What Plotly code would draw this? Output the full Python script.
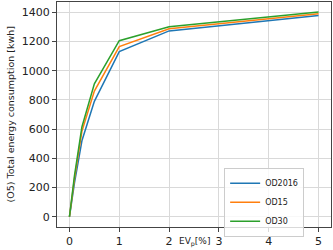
import plotly.graph_objects as go

ev = [0, 0.1, 0.25, 0.5, 1, 2, 5]
od2016 = [0, 230, 520, 790, 1130, 1272, 1378]
od15 = [0, 260, 585, 860, 1165, 1287, 1390]
od30 = [0, 280, 615, 910, 1205, 1300, 1402]

names = ["OD2016", "OD15", "OD30"]
series = [od2016, od15, od30]
colors = ["#1f77b4", "#ff7f0e", "#2ca02c"]

FONT = "DejaVu Sans"

fig = go.Figure()
for n, s, c in zip(names, series, colors):
    fig.add_trace(go.Scatter(x=ev, y=s, mode="lines", name=n,
                             line=dict(color=c, width=1.5)))

axis_common = dict(showgrid=True, gridcolor="#d9d9d9", gridwidth=1,
                   showline=True, linecolor="#444444", linewidth=1, mirror=True,
                   ticks="outside", ticklen=4, tickcolor="#444444",
                   zeroline=False, automargin=False,
                   tickfont=dict(family=FONT, size=11, color="#222"))

fig.update_xaxes(range=[-0.25, 5.25], tickvals=[0, 1, 2, 3, 4, 5], **axis_common)
fig.update_yaxes(range=[-70, 1470], tickvals=[0, 200, 400, 600, 800, 1000, 1200, 1400],
                 **axis_common)

fig.add_annotation(text="EV<sub>p</sub>[%]", xref="paper", yref="paper",
                   x=0.5, y=0, yshift=-15, xanchor="center", yanchor="middle",
                   showarrow=False, font=dict(family=FONT, size=9, color="#222"))
fig.add_annotation(text="(O5) Total energy consumption [kwh]", xref="paper", yref="paper",
                   x=0, xshift=-47, y=0.5, textangle=-90, xanchor="center", yanchor="middle",
                   showarrow=False, font=dict(family=FONT, size=9.5, color="#222"))

fig.update_layout(
    width=333, height=250,
    margin=dict(l=57, r=2, t=2, b=23),
    plot_bgcolor="white", paper_bgcolor="white",
    showlegend=True,
    legend=dict(x=0.61, y=0.11, xanchor="left", yanchor="middle",
                bgcolor="rgba(255,255,255,0.8)", bordercolor="#cccccc", borderwidth=1,
                font=dict(family=FONT, size=8, color="#222"),
                tracegroupgap=0, itemwidth=30),
)

fig.write_html("out.html", config={"displayModeBar": False},
               post_script="document.body.style.margin='0';document.body.style.overflow='hidden';")
